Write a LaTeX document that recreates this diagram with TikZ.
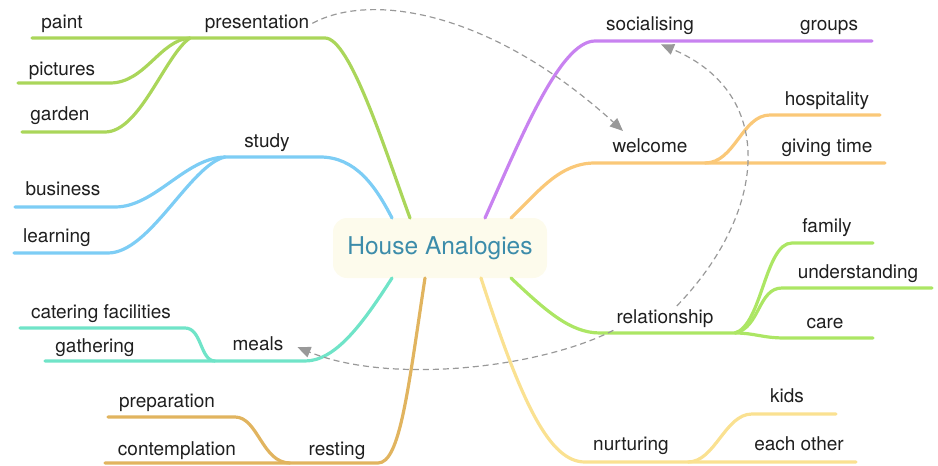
\documentclass[tikz,border=0pt]{standalone}
\usepackage{fontspec}
\setmainfont{TeX Gyre Heros}
\usetikzlibrary{arrows.meta}

\definecolor{presgreen}{RGB}{170,214,90}
\definecolor{studyblue}{RGB}{125,205,245}
\definecolor{mealteal}{RGB}{112,228,200}
\definecolor{restochre}{RGB}{225,180,95}
\definecolor{socpurple}{RGB}{200,130,240}
\definecolor{welcorange}{RGB}{250,200,120}
\definecolor{rellime}{RGB}{172,230,100}
\definecolor{nurtyellow}{RGB}{250,225,145}
\definecolor{roottext}{RGB}{60,140,170}
\definecolor{rootfill}{RGB}{253,251,236}

\begin{document}
\begin{tikzpicture}[x=1pt, y=-1pt,
    leaf/.style={anchor=base, inner sep=3pt, font=\fontsize{19}{22}\selectfont, text=black!88},
    branch/.style={line width=3.2pt, line cap=round},
    link/.style={-{Triangle[length=13pt,width=11pt]}, gray!80, line width=1.2pt, dash pattern=on 6pt off 4pt}
]
    \useasboundingbox (0,0) rectangle (938,466);

    % centre
    \node[fill=rootfill, rounded corners=14pt, minimum width=214pt, minimum height=60pt,
          text=roottext, font=\fontsize{24.5}{28}\selectfont] (root) at (440,248) {House Analogies};

    % labels
    \node[leaf] (pres)   at (257,28)  {presentation};
    \node[leaf] (paint)  at (62,28)   {paint};
    \node[leaf] (pict)   at (62,75)   {pictures};
    \node[leaf] (gard)   at (60,120)  {garden};
    \node[leaf] (study)  at (267,147) {study};
    \node[leaf] (busi)   at (63,195)  {business};
    \node[leaf] (learn)  at (57,242)  {learning};
    \node[leaf] (cater)  at (101,318) {catering facilities};
    \node[leaf] (gath)   at (95,352)  {gathering};
    \node[leaf] (meals)  at (258,350) {meals};
    \node[leaf] (prep)   at (167,407) {preparation};
    \node[leaf] (contem) at (177,455) {contemplation};
    \node[leaf] (rest)   at (337,455) {resting};
    \node[leaf] (soc)    at (650,30)  {socialising};
    \node[leaf] (groups) at (829,30)  {groups};
    \node[leaf] (hosp)   at (827,105) {hospitality};
    \node[leaf] (welc)   at (650,152) {welcome};
    \node[leaf] (give)   at (827,152) {giving time};
    \node[leaf] (fam)    at (827,232) {family};
    \node[leaf] (under)  at (858,278) {understanding};
    \node[leaf] (rel)    at (665,323) {relationship};
    \node[leaf] (care)   at (825,328) {care};
    \node[leaf] (kids)   at (787,402) {kids};
    \node[leaf] (nurt)   at (631,450) {nurturing};
    \node[leaf] (each)   at (799,450) {each other};

    % branch roots, hubs and free ends
    \coordinate (r-pres)  at (410,218);
    \coordinate (r-study) at (392,218);
    \coordinate (r-meals) at (392,278);
    \coordinate (r-rest)  at (425,278);
    \coordinate (r-soc)   at (485,218);
    \coordinate (r-welc)  at (511,218);
    \coordinate (r-rel)   at (511,278);
    \coordinate (r-nurt)  at (481,278);

    \coordinate (pres-hub)  at (190,38);
    \coordinate (study-hub) at (225,157);
    \coordinate (meals-hub) at (215,361);
    \coordinate (rest-hub)  at (290,463);
    \coordinate (welc-hub)  at (705,163);
    \coordinate (rel-hub)   at (735,333);
    \coordinate (nurt-hub)  at (688,462);

    \coordinate (paint-end)  at (32,38);
    \coordinate (pict-end)   at (18,83);
    \coordinate (gard-end)   at (22,132);
    \coordinate (busi-end)   at (15,207);
    \coordinate (learn-end)  at (14,253);
    \coordinate (cater-end)  at (20,328);
    \coordinate (gath-end)   at (45,361);
    \coordinate (prep-end)   at (108,417);
    \coordinate (contem-end) at (105,463);
    \coordinate (groups-end) at (872,41);
    \coordinate (hosp-end)   at (880,115);
    \coordinate (give-end)   at (885,163);
    \coordinate (fam-end)    at (873,243);
    \coordinate (under-end)  at (932,288);
    \coordinate (care-end)   at (873,338);
    \coordinate (kids-end)   at (836,414);
    \coordinate (each-end)   at (856,462);

    % left side
    \draw[branch, presgreen] (r-pres) .. controls (385,150) and (350,38) .. (325,38) -- (pres-hub) -- (paint-end);
    \draw[branch, presgreen] (pres-hub) .. controls (160,40) and (145,83) .. (110,83) -- (pict-end);
    \draw[branch, presgreen] (pres-hub) .. controls (165,55) and (140,132) .. (105,132) -- (gard-end);

    \draw[branch, studyblue] (r-study) .. controls (375,185) and (355,157) .. (320,157) -- (study-hub);
    \draw[branch, studyblue] (study-hub) .. controls (185,158) and (155,207) .. (115,207) -- (busi-end);
    \draw[branch, studyblue] (study-hub) .. controls (190,165) and (150,253) .. (108,253) -- (learn-end);

    \draw[branch, mealteal] (r-meals) .. controls (362,325) and (335,361) .. (305,361) -- (meals-hub) -- (gath-end);
    \draw[branch, mealteal] (meals-hub) .. controls (200,361) and (202,328) .. (185,328) -- (cater-end);

    \draw[branch, restochre] (r-rest) .. controls (408,390) and (400,463) .. (378,463) -- (rest-hub) -- (contem-end);
    \draw[branch, restochre] (rest-hub) .. controls (262,463) and (258,417) .. (235,417) -- (prep-end);

    % right side
    \draw[branch, socpurple] (r-soc) .. controls (520,140) and (560,41) .. (595,41) -- (groups-end);

    \draw[branch, welcorange] (r-welc) .. controls (540,190) and (560,163) .. (595,163) -- (welc-hub) -- (give-end);
    \draw[branch, welcorange] (welc-hub) .. controls (735,163) and (742,115) .. (770,115) -- (hosp-end);

    \draw[branch, rellime] (r-rel) .. controls (545,310) and (570,333) .. (600,333) -- (rel-hub)
        .. controls (755,333) and (762,338) .. (785,338) -- (care-end);
    \draw[branch, rellime] (rel-hub) .. controls (762,325) and (765,243) .. (792,243) -- (fam-end);
    \draw[branch, rellime] (rel-hub) .. controls (760,328) and (758,288) .. (782,288) -- (under-end);

    \draw[branch, nurtyellow] (r-nurt) .. controls (522,405) and (550,462) .. (585,462) -- (nurt-hub) -- (each-end);
    \draw[branch, nurtyellow] (nurt-hub) .. controls (715,462) and (725,414) .. (752,414) -- (kids-end);

    % cross links
    \draw[link] (pres.east) .. controls (370,-8) and (490,10) .. ([xshift=-27pt,yshift=4pt]welc.north);
    \draw[link] (rel.south west) .. controls (540,368) and (390,385) .. ([xshift=11pt,yshift=-4pt]meals.east);
    \draw[link] (rel) .. controls (765,215) and (780,95) .. ([xshift=11pt,yshift=-7pt]soc.south);
\end{tikzpicture}
\end{document}
